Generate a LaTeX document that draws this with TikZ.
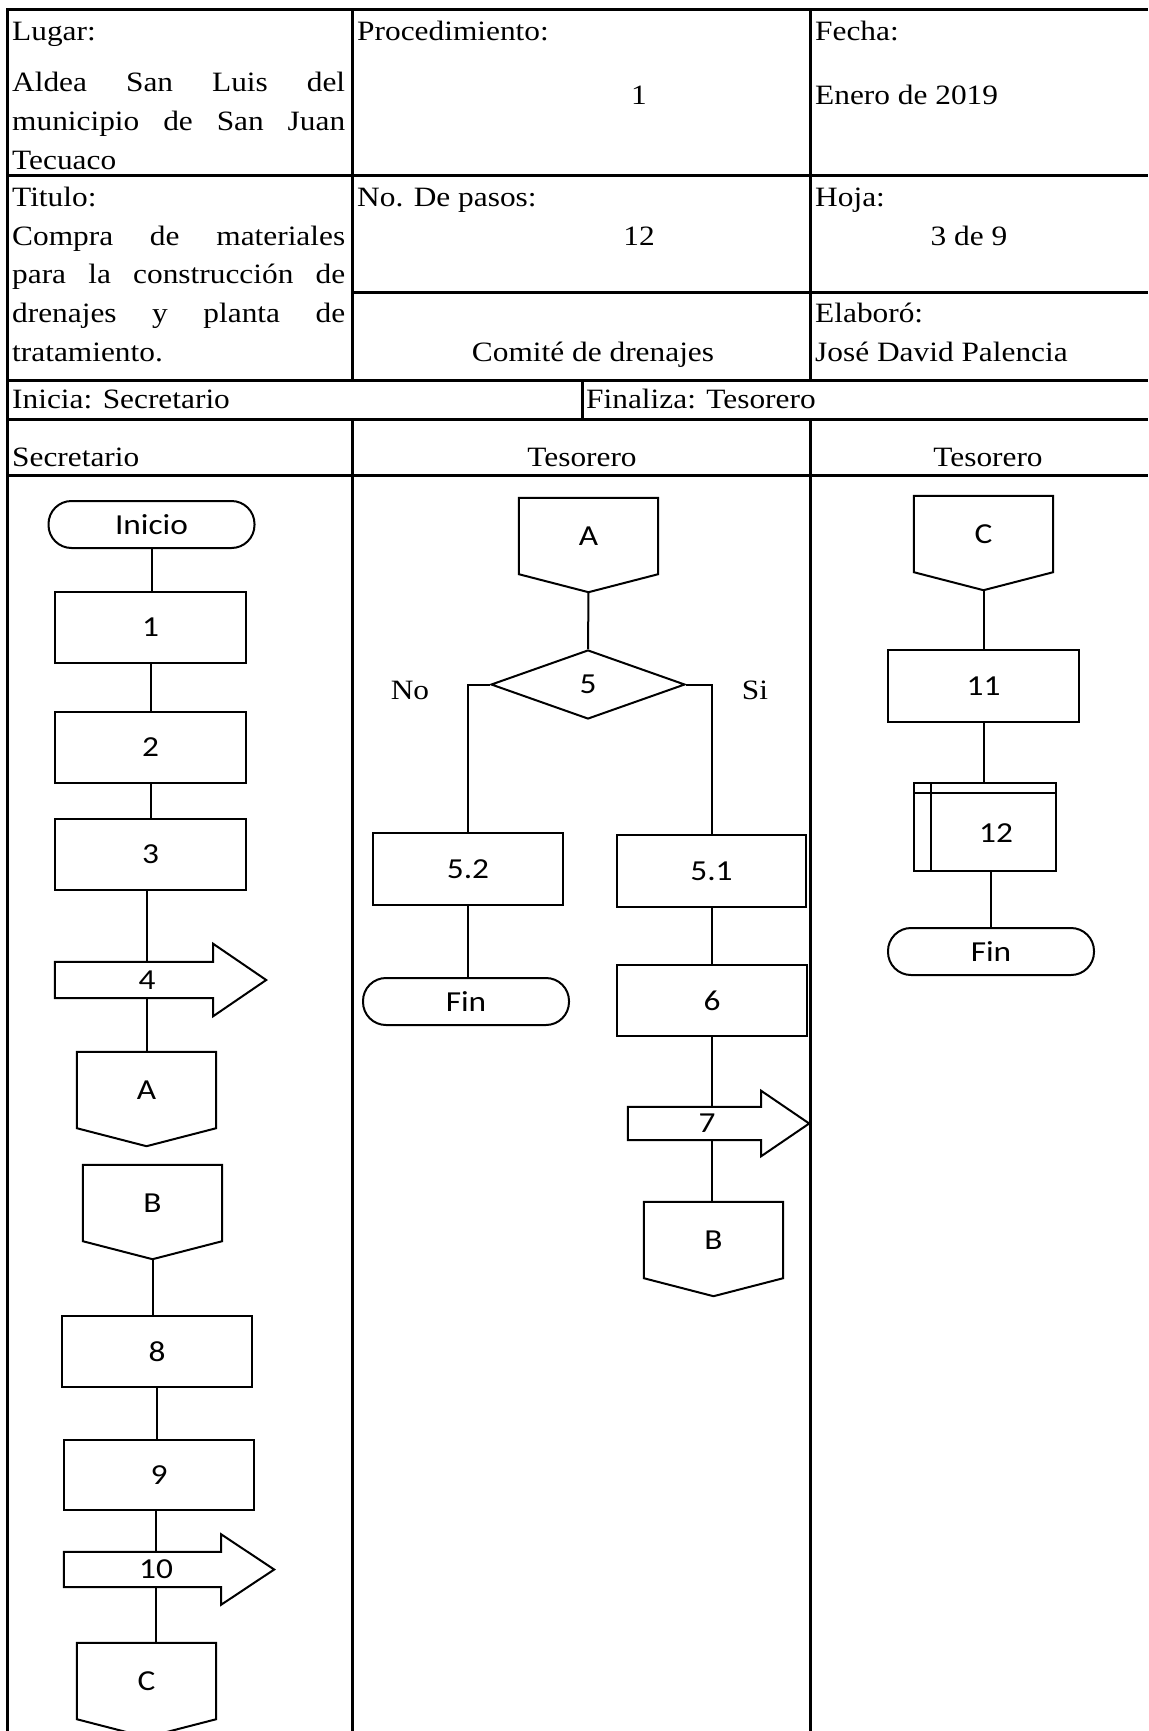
\documentclass[tikz,border=0pt]{standalone}
\usepackage{fontspec}
\setmainfont{Liberation Serif}[FakeStretch=1.12]
\newfontfamily\flowfont{Carlito}[FakeStretch=1.15]
\usetikzlibrary{shapes.geometric,calc}
\newcommand\hdfont{\fontsize{28pt}{34pt}\selectfont}
\newcommand\flowtext{\flowfont\fontsize{29pt}{35pt}\selectfont}
\newcommand\offpg[1]{\draw[flow] (#1.south west) -- (#1.north west) -- (#1.north east) -- (#1.south east) -- ([yshift=-18pt]#1.south) -- cycle;
  \coordinate (#1tip) at ([yshift=-18pt]#1.south);}
\newcommand\bigarr[3]{\draw[flow] (#1.north west) -- (#1.north east) -- ([yshift=#3]#1.north east) -- ([xshift=#2]#1.east) -- ([yshift=-#3]#1.south east) -- (#1.south east) -- (#1.south west) -- cycle;}
\begin{document}
\begin{tikzpicture}[x=1pt,y=-1pt,
  grid/.style={line width=3pt},
  flow/.style={line width=2pt},
  hd/.style={font=\hdfont, inner sep=0pt, anchor=base west},
  hdc/.style={font=\hdfont, inner sep=0pt, anchor=base},
  proc/.style={draw, line width=2pt, minimum width=191pt, minimum height=71pt, inner sep=0pt, font=\flowtext},
  term/.style={draw, line width=2pt, rounded corners=23pt, minimum width=206pt, minimum height=47pt, inner sep=0pt, font=\flowtext},
  offnode/.style={minimum width=139pt, minimum height=76pt, inner sep=0pt, font=\flowtext},
  abody/.style={inner sep=0pt},
  alabel/.style={inner sep=0pt, font=\flowtext, minimum width=10pt},
  ftext/.style={inner sep=0pt, font=\flowtext},
  dec/.style={draw, line width=2pt, diamond, minimum width=194pt, minimum height=69pt, inner sep=0pt, font=\flowtext}
]
\useasboundingbox (0,0) rectangle (1148,1731);
% ---------- table grid ----------
\draw[grid] (7.5,10) -- (1148,10);
\draw[grid] (7.5,176) -- (1148,176);
\draw[grid] (352,292) -- (1148,292);
\draw[grid] (7.5,380) -- (1148,380);
\draw[grid] (7.5,419) -- (1148,419);
\draw[grid] (7.5,475) -- (1148,475);
\draw[grid] (7.5,8.5) -- (7.5,1731);
\draw[grid] (352,10) -- (352,380);
\draw[grid] (352,419) -- (352,1731);
\draw[grid] (810,10) -- (810,380);
\draw[grid] (810,419) -- (810,1731);
\draw[grid] (582,380) -- (582,419);
% ---------- header texts ----------
\node[hd] (h1) at (12,41) {Lugar:};
\node[hd] (h2) at (12,92) {\makebox[333pt][s]{Aldea San Luis del}};
\node[hd] (h3) at (12,131) {\makebox[333pt][s]{municipio de San Juan}};
\node[hd] (h4) at (12,170) {Tecuaco};
\node[hd] (h5) at (357,41) {Procedimiento:};
\node[hdc] (h6) at (639,105) {1};
\node[hd] (h7) at (815,41) {Fecha:};
\node[hd] (h8) at (815,105) {Enero de 2019};
\node[hd] (h9) at (12,207) {Titulo:};
\node[hd] (h10) at (12,245) {\makebox[333pt][s]{Compra de materiales}};
\node[hd] (h11) at (12,283) {\makebox[333pt][s]{para la construcción de}};
\node[hd] (h12) at (12,322) {\makebox[333pt][s]{drenajes y planta de}};
\node[hd] (h13) at (12,361) {tratamiento.};
\node[hd] (h14) at (357,207) {No. De pasos:};
\node[hdc] (h15) at (639,245) {12};
\node[hd] (h16) at (815,207) {Hoja:};
\node[hdc] (h17) at (969,245) {3 de 9};
\node[hdc] (h18) at (593,361) {Comité de drenajes};
\node[hd] (h19) at (815,322) {Elaboró:};
\node[hd] (h20) at (815,361) {José David Palencia};
\node[hd] (h21) at (12,408) {Inicia: Secretario};
\node[hd] (h22) at (586,408) {Finaliza: Tesorero};
\node[hd] (h23) at (12,466) {Secretario};
\node[hdc] (h24) at (582,466) {Tesorero};
\node[hdc] (h25) at (988,466) {Tesorero};
% ---------- lane 1 ----------
\node[term] (inicio) at (151.5,524.5) {Inicio};
\node[proc] (b1) at (150.5,627.5) {1};
\node[proc] (b2) at (150.5,747.5) {2};
\node[proc] (b3) at (150.5,854.5) {3};
\node[abody, minimum width=158pt, minimum height=36pt] (a4) at (134,980) {};
\bigarr{a4}{53pt}{18pt}
\node[alabel, minimum height=36pt] (l4) at (147,980) {4};
\node[offnode] (cA1) at (146.5,1090) {A};
\offpg{cA1}
\node[offnode] (cB1) at (152.5,1203) {B};
\offpg{cB1}
\node[proc, minimum width=190pt] (b8) at (157,1351.5) {8};
\node[proc, minimum width=190pt, minimum height=70pt] (b9) at (159,1475) {9};
\node[abody, minimum width=157pt, minimum height=35pt] (a10) at (142.5,1569.5) {};
\bigarr{a10}{53pt}{17.5pt}
\node[alabel, minimum height=35pt] (l10) at (156,1569.5) {10};
\node[offnode] (cC1) at (146.5,1681) {C};
\offpg{cC1}
\draw[flow] (inicio.south) -- (inicio.south |- b1.north);
\draw[flow] (b1.south) -- (b1.south |- b2.north);
\draw[flow] (b2.south) -- (b2.south |- b3.north);
\draw[flow] (l4.north |- b3.south) -- (l4.north);
\draw[flow] (l4.south) -- (l4.south |- cA1.north);
\draw[flow] (cB1tip) -- (cB1tip |- b8.north);
\draw[flow] (b8.south) -- (b8.south |- b9.north);
\draw[flow] (l10.north |- b9.south) -- (l10.north);
\draw[flow] (l10.south) -- (l10.south |- cC1.north);
% ---------- lane 2 ----------
\node[offnode] (cA2) at (588.5,536) {A};
\offpg{cA2}
\node[dec] (d5) at (588,684.5) {5};
\node[hdc] (no) at (410,699) {No};
\node[hdc] (si) at (755,699) {Si};
\node[proc, minimum width=190pt, minimum height=72pt] (b52) at (468,869) {5.2};
\node[term] (fin2) at (466,1001.5) {Fin};
\node[proc, minimum width=189pt, minimum height=72pt] (b51) at (711.5,871) {5.1};
\node[proc, minimum width=190pt] (b6) at (712,1000.5) {6};
\node[abody, minimum width=133pt, minimum height=33pt] (a7) at (694.5,1123.5) {};
\bigarr{a7}{48pt}{16pt}
\node[alabel, minimum height=33pt] (l7) at (707,1123.5) {7};
\node[offnode] (cB2) at (713.5,1240) {B};
\offpg{cB2}
\draw[flow] (cA2tip) -- (d5.north);
\draw[flow] (d5.west) -- (d5.west -| b52.north) -- (b52.north);
\draw[flow] (d5.east) -- (d5.east -| b51.north) -- (b51.north);
\draw[flow] (b52.south) -- (b52.south |- fin2.north);
\draw[flow] (b51.south) -- (b51.south |- b6.north);
\draw[flow] (b6.south) -- (b6.south |- l7.north);
\draw[flow] (b6.south |- l7.south) -- (b6.south |- cB2.north);
% ---------- lane 3 ----------
\node[offnode] (cC2) at (983.5,534) {C};
\offpg{cC2}
\node[proc, minimum height=72pt] (b11) at (983.5,686) {11};
\node[draw, line width=2pt, minimum width=142pt, minimum height=88pt, inner sep=0pt] (b12) at (985,827) {};
\draw[flow] ([yshift=-11pt]b12.north west) -- ([yshift=-11pt]b12.north east);
\draw[flow] ([xshift=18pt]b12.north west) -- ([xshift=18pt]b12.south west);
\node[ftext] (t12) at (996,833) {12};
\node[term] (fin3) at (991,951.5) {Fin};
\draw[flow] (cC2tip) -- (cC2tip |- b11.north);
\draw[flow] (b11.south) -- (b11.south |- b12.north);
\draw[flow] (fin3.north |- b12.south) -- (fin3.north);
\end{tikzpicture}
\end{document}
